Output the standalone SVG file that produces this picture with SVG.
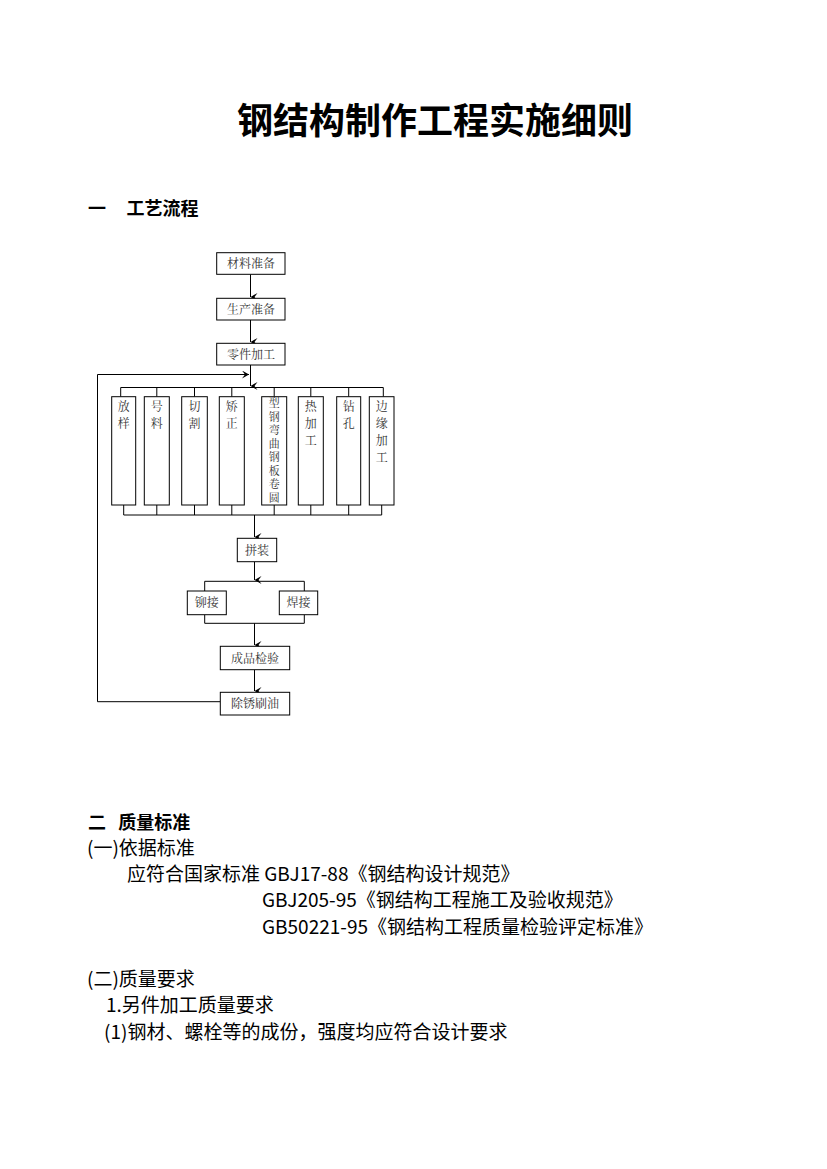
<svg xmlns="http://www.w3.org/2000/svg" width="827" height="1169" viewBox="0 0 827 1169">
<style>
.t{font-family:"Noto Sans CJK SC","Liberation Sans",sans-serif;fill:#000}
.b{font-weight:bold}
.n rect{fill:#fff;stroke:#000;stroke-width:1}
.n text{font-family:"Noto Serif CJK SC","Noto Sans CJK SC",serif;font-size:12px;fill:#333;text-anchor:middle}
#c path{fill:none;stroke:#000;stroke-width:1}
</style>
<defs><marker id="a" markerWidth="8" markerHeight="8" refX="4" refY="7" orient="auto" markerUnits="userSpaceOnUse"><path d="M0,0 L4,7 L8,0 L4,3 Z" fill="#000"/></marker>
<marker id="r" markerWidth="8" markerHeight="8" refX="7" refY="4" orient="0" markerUnits="userSpaceOnUse"><path d="M0,0 L7,4 L0,8 L3,4 Z" fill="#000"/></marker></defs>
<rect width="827" height="1169" fill="#fff"/>
<text class="t b" x="435" y="134" font-size="36" text-anchor="middle">钢结构制作工程实施细则</text>
<text class="t b" x="88" y="215" font-size="18" xml:space="preserve">一     工艺流程</text>
<g id="c">
<path d="M250.5,274.3V297" marker-end="url(#a)"/>
<path d="M250.5,320V342" marker-end="url(#a)"/>
<path d="M250.5,365V386" marker-end="url(#a)"/>
<path d="M97.5,701.7V374.5H249" marker-end="url(#r)"/>
<path d="M120.7,396.7V387.5H383.3V396.7M156.8,387.5V396.7M194.5,387.5V396.7M231.8,387.5V396.7M274.2,387.5V396.7M310.8,387.5V396.7M348.7,387.5V396.7"/>
<path d="M123.7,505V515H381.7V505M156.8,505V515M194.5,505V515M231.8,505V515M274.2,505V515M310.8,505V515M348.7,505V515"/>
<path d="M254.5,515V537" marker-end="url(#a)"/>
<path d="M254.5,561.7V580" marker-end="url(#a)"/>
<path d="M204.7,591V581.3H304.3V591"/>
<path d="M204.7,614.7V623.3H304.3V614.7"/>
<path d="M254.5,623.3V645" marker-end="url(#a)"/>
<path d="M254.5,669.7V691" marker-end="url(#a)"/>
<path d="M97.5,701.7H220.3"/>
</g>
<g id="n1" class="n"><rect x="216.7" y="252.7" width="68.3" height="21.6"/><text x="251" y="268">材料准备</text></g>
<g id="n2" class="n"><rect x="216.7" y="298.3" width="68.3" height="21.7"/><text x="251" y="313.5">生产准备</text></g>
<g id="n3" class="n"><rect x="216.7" y="343.3" width="68.3" height="21.7"/><text x="251" y="358.5">零件加工</text></g>
<g id="n4" class="n"><rect x="111.7" y="396.7" width="24" height="108.3"/><text x="123.7" y="411">放</text><text x="123.7" y="428">样</text></g>
<g id="n5" class="n"><rect x="144.3" y="396.7" width="25" height="108.3"/><text x="156.8" y="411">号</text><text x="156.8" y="428">料</text></g>
<g id="n6" class="n"><rect x="181.7" y="396.7" width="25.6" height="108.3"/><text x="194.5" y="411">切</text><text x="194.5" y="428">割</text></g>
<g id="n7" class="n"><rect x="219.3" y="396.7" width="25" height="108.3"/><text x="231.8" y="411">矫</text><text x="231.8" y="428">正</text></g>
<g id="n8" class="n" font-size="11"><rect x="261.7" y="396.7" width="25" height="108.3"/><text x="274.2" y="407" style="font-size:11px">型</text><text x="274.2" y="420.5" style="font-size:11px">钢</text><text x="274.2" y="434" style="font-size:11px">弯</text><text x="274.2" y="447.5" style="font-size:11px">曲</text><text x="274.2" y="461" style="font-size:11px">钢</text><text x="274.2" y="474.5" style="font-size:11px">板</text><text x="274.2" y="488" style="font-size:11px">卷</text><text x="274.2" y="501.5" style="font-size:11px">圆</text></g>
<g id="n9" class="n"><rect x="298.3" y="396.7" width="25" height="108.3"/><text x="310.8" y="411">热</text><text x="310.8" y="428">加</text><text x="310.8" y="445">工</text></g>
<g id="n10" class="n"><rect x="336.7" y="396.7" width="24" height="108.3"/><text x="348.7" y="411">钻</text><text x="348.7" y="428">孔</text></g>
<g id="n11" class="n"><rect x="369.3" y="396.7" width="24.7" height="108.3"/><text x="381.7" y="411">边</text><text x="381.7" y="428">缘</text><text x="381.7" y="445">加</text><text x="381.7" y="462">工</text></g>
<g id="n12" class="n"><rect x="237.3" y="538.3" width="39.4" height="23.4"/><text x="257" y="554.5">拼装</text></g>
<g id="n13" class="n"><rect x="187.3" y="591" width="39" height="23.7"/><text x="206.8" y="607">铆接</text></g>
<g id="n14" class="n"><rect x="279.3" y="591" width="38.4" height="23.7"/><text x="298.5" y="607">焊接</text></g>
<g id="n15" class="n"><rect x="220.3" y="646.3" width="69.4" height="23.4"/><text x="255" y="662.5">成品检验</text></g>
<g id="n16" class="n"><rect x="220.3" y="692.3" width="69.4" height="22.7"/><text x="255" y="708">除锈刷油</text></g>
<g class="t" font-size="19">
<text class="b" x="88" y="829" font-size="18" xml:space="preserve">二   质量标准</text>
<text x="87" y="855">(一)依据标准</text>
<text x="127" y="881">应符合国家标准 GBJ17-88《钢结构设计规范》</text>
<text x="262" y="907">GBJ205-95《钢结构工程施工及验收规范》</text>
<text x="262" y="934">GB50221-95《钢结构工程质量检验评定标准》</text>
<text x="87" y="986">(二)质量要求</text>
<text x="106" y="1012">1.另件加工质量要求</text>
<text x="104" y="1039">(1)钢材、螺栓等的成份，强度均应符合设计要求</text>
</g>
</svg>
